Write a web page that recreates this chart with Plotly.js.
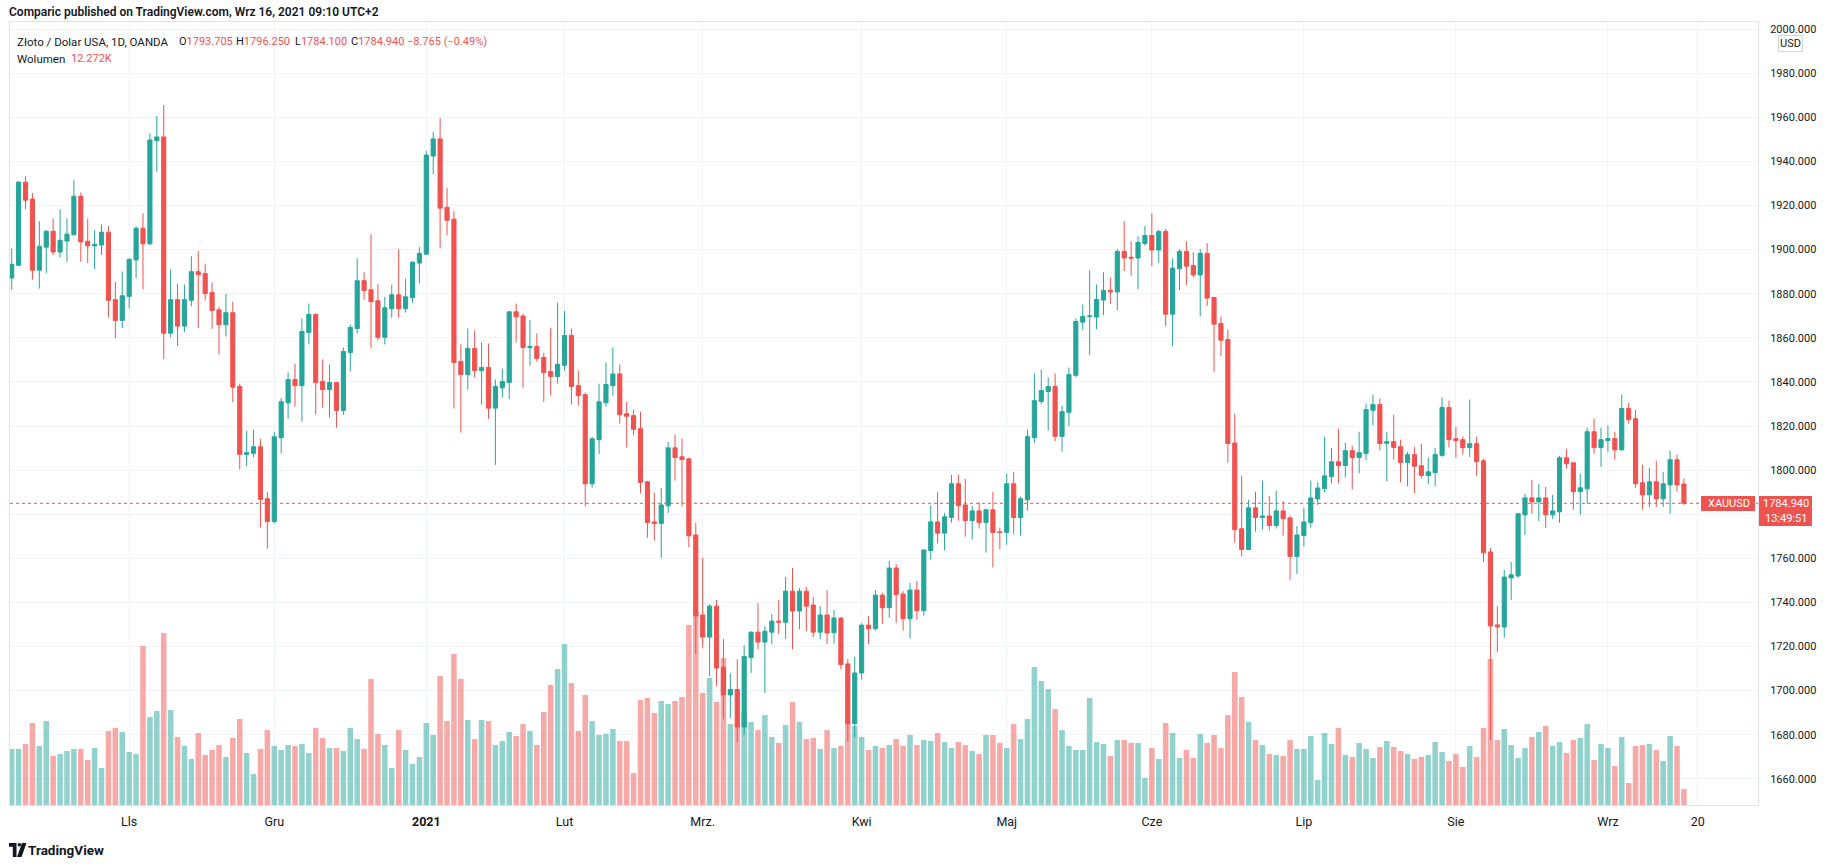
<!DOCTYPE html>
<html>
<head>
<meta charset="utf-8">
<script src="https://cdn.plot.ly/plotly-3.0.1.min.js"></script>
<style>
  html, body { margin: 0; padding: 0; background: #ffffff; }
  #chart { width: 1834px; height: 868px; }
</style>
</head>
<body>
<div id="chart"></div>
<script>
// ---------- DATA (XAUUSD, OANDA, 1D) ----------
const firstDay = '2020-10-08';
const holidays = ['2020-12-25', '2021-01-01', '2021-04-02'];
const barCount = 243;

const openP = [
1887.1,1892.9,1930.6,1922.9,1890.6,1901.1,1908.3,1898.9,1903.9,1906.7,
1924.2,1903.8,1901.7,1902.1,1907.9,1877.3,1867.9,1878.8,1895.3,1909.7,
1902.6,1949.4,1951.1,1862.1,1877.3,1865.3,1877.0,1890.0,1889.1,1880.5,
1872.7,1865.9,1871.4,1837.9,1807.1,1807.6,1810.6,1787.0,1776.7,1814.7,
1830.5,1841.1,1838.3,1862.4,1870.6,1840.2,1836.5,1839.7,1827.0,1853.3,
1864.2,1885.9,1881.8,1876.8,1860.2,1873.2,1879.5,1873.2,1878.2,1893.9,
1897.9,1942.4,1950.2,1919.2,1913.8,1849.3,1843.3,1855.2,1845.1,1846.5,
1828.1,1837.3,1839.7,1871.8,1869.9,1855.6,1856.1,1851.1,1844.7,1842.4,
1847.5,1861.1,1838.3,1834.2,1793.8,1813.8,1830.5,1838.3,1843.6,1825.6,
1824.7,1818.8,1794.7,1776.5,1775.8,1783.8,1810.1,1806.0,1805.1,1770.6,
1734.3,1724.3,1738.3,1710.6,1698.0,1700.5,1683.5,1715.0,1726.5,1722.0,
1726.5,1731.5,1731.0,1745.1,1736.1,1745.1,1738.8,1726.5,1734.3,1726.2,
1732.9,1712.1,1685.0,1708.0,1729.7,1728.1,1743.3,1737.6,1755.6,1743.8,
1732.6,1745.6,1736.2,1763.5,1776.5,1771.4,1778.5,1793.8,1784.2,1777.1,
1781.5,1776.2,1782.0,1772.0,1771.7,1793.8,1778.5,1786.5,1814.7,1831.1,
1835.6,1837.9,1815.3,1826.2,1843.0,1867.1,1869.7,1869.4,1877.1,1881.5,
1880.8,1899.2,1896.5,1896.2,1902.8,1906.4,1899.8,1908.2,1870.7,1891.3,
1899.2,1892.8,1888.5,1898.3,1878.3,1866.5,1859.2,1812.3,1773.4,1764.0,
1782.9,1778.5,1779.2,1774.9,1781.5,1778.3,1760.8,1770.3,1776.2,1786.9,
1791.6,1797.0,1803.8,1802.1,1808.8,1805.7,1807.6,1827.1,1829.7,1812.1,
1812.9,1810.6,1803.5,1807.0,1802.0,1797.6,1798.9,1806.7,1828.4,1814.3,
1813.8,1810.2,1812.0,1804.2,1762.9,1729.8,1728.9,1751.1,1752.0,1779.7,
1787.4,1785.6,1787.4,1779.7,1781.1,1805.6,1803.3,1790.2,1791.5,1817.4,
1810.2,1813.4,1814.3,1809.2,1827.9,1823.3,1794.3,1788.8,1794.7,1787.0,
1793.3,1804.7,1793.705
];

const highP = [
1900.5,1931.0,1933.3,1925.6,1912.9,1908.8,1914.1,1918.3,1914.1,1931.5,
1925.9,1914.1,1908.8,1911.5,1910.6,1885.4,1890.1,1896.1,1910.6,1916.5,
1952.7,1960.6,1965.6,1891.0,1884.5,1884.1,1897.0,1899.4,1893.6,1885.0,
1874.1,1880.0,1876.4,1839.2,1817.9,1818.3,1814.2,1790.2,1817.4,1832.8,
1844.2,1848.3,1868.8,1875.5,1871.1,1850.2,1847.9,1840.0,1855.6,1866.0,
1896.1,1889.7,1907.0,1884.5,1878.6,1884.1,1900.2,1886.8,1894.7,1901.1,
1944.7,1953.3,1959.7,1927.9,1917.4,1857.0,1864.2,1863.3,1857.9,1857.4,
1841.1,1846.0,1871.8,1875.5,1870.9,1868.2,1862.0,1853.3,1864.5,1875.9,
1872.2,1864.2,1845.1,1835.2,1815.1,1839.2,1848.8,1855.6,1847.9,1831.0,
1827.4,1826.5,1795.2,1789.7,1792.0,1812.8,1816.1,1814.3,1805.6,1776.1,
1760.2,1739.2,1741.1,1723.4,1707.8,1714.2,1720.6,1726.9,1739.7,1729.2,
1734.7,1741.1,1751.5,1755.6,1746.5,1747.0,1742.4,1738.3,1745.6,1736.5,
1733.3,1714.3,1715.4,1730.6,1733.8,1745.6,1744.3,1758.8,1757.4,1745.1,
1748.8,1749.7,1763.8,1783.9,1790.1,1780.6,1797.9,1797.9,1796.1,1783.8,
1785.5,1782.4,1790.1,1774.0,1798.4,1799.2,1787.9,1818.3,1843.8,1845.6,
1842.0,1843.8,1829.2,1846.5,1868.8,1875.1,1890.6,1884.2,1889.7,1887.4,
1900.2,1912.9,1903.8,1906.0,1910.6,1916.5,1909.1,1909.5,1896.1,1900.2,
1903.8,1898.8,1900.2,1902.9,1878.3,1869.7,1863.8,1825.6,1797.4,1786.6,
1790.2,1795.2,1788.3,1790.6,1786.0,1779.4,1774.7,1782.9,1795.2,1794.6,
1815.2,1810.1,1818.8,1812.4,1811.1,1817.4,1830.1,1834.2,1832.4,1817.4,
1825.1,1813.8,1808.3,1810.6,1812.0,1805.6,1810.1,1832.9,1831.5,1819.7,
1815.2,1832.0,1815.2,1805.1,1764.7,1738.3,1754.7,1758.3,1780.2,1789.2,
1795.6,1793.8,1792.4,1788.8,1806.5,1809.7,1803.3,1798.3,1819.2,1823.3,
1819.2,1820.2,1817.4,1834.3,1830.6,1827.4,1802.4,1801.1,1804.2,1799.1,
1808.8,1807.0,1796.25
];

const lowP = [
1881.8,1892.5,1918.3,1886.4,1882.3,1889.4,1897.4,1896.5,1894.4,1906.5,
1894.4,1893.9,1891.2,1897.6,1869.3,1859.8,1864.4,1873.3,1887.0,1882.0,
1902.1,1935.3,1850.3,1860.3,1856.2,1862.6,1874.3,1864.4,1877.0,1864.1,
1852.4,1860.6,1830.8,1800.3,1801.7,1805.7,1774.0,1764.4,1775.8,1807.6,
1823.3,1828.8,1822.0,1857.0,1825.1,1828.3,1823.8,1819.2,1825.1,1844.7,
1862.0,1877.3,1855.2,1858.8,1857.0,1869.1,1869.1,1871.4,1875.9,1884.6,
1897.7,1934.3,1900.6,1906.5,1827.9,1817.0,1836.5,1842.0,1829.7,1823.3,
1802.4,1832.9,1832.2,1857.9,1837.4,1847.3,1849.2,1831.0,1833.8,1839.2,
1845.1,1829.7,1829.3,1783.5,1792.0,1807.3,1828.7,1833.8,1821.1,1810.3,
1815.8,1789.4,1769.3,1768.0,1760.2,1780.6,1795.2,1783.5,1765.1,1716.5,
1719.2,1706.5,1702.0,1687.0,1687.5,1676.5,1680.0,1708.0,1718.8,1699.0,
1721.1,1725.6,1723.4,1718.8,1727.9,1727.0,1724.3,1723.4,1721.1,1721.3,
1709.6,1677.0,1679.0,1705.0,1721.0,1727.2,1730.3,1733.0,1730.8,1727.2,
1723.6,1732.1,1734.0,1759.4,1766.7,1763.5,1776.2,1777.1,1769.8,1768.5,
1773.5,1762.6,1755.8,1764.0,1766.2,1770.8,1770.3,1781.7,1812.4,1829.9,
1818.0,1813.0,1808.4,1819.8,1842.1,1863.5,1852.1,1863.9,1870.3,1875.3,
1872.5,1890.3,1888.1,1882.1,1901.7,1892.5,1894.0,1865.3,1856.2,1881.7,
1883.9,1887.4,1869.7,1874.4,1844.4,1851.7,1803.5,1767.1,1760.8,1764.0,
1772.1,1773.0,1772.6,1773.5,1770.3,1750.3,1753.0,1765.4,1774.0,1784.2,
1789.9,1794.0,1794.0,1796.7,1791.2,1798.5,1804.4,1820.3,1809.0,1794.9,
1804.8,1794.4,1792.6,1789.6,1796.2,1793.7,1792.6,1806.0,1810.2,1805.6,
1807.0,1806.0,1797.4,1758.3,1677.5,1717.4,1723.9,1741.1,1751.1,1770.6,
1780.2,1776.9,1773.8,1777.9,1776.1,1800.6,1782.0,1779.7,1784.7,1807.4,
1801.5,1808.3,1804.7,1808.8,1821.1,1792.0,1782.0,1783.3,1783.3,1783.3,
1780.2,1790.2,1784.1
];

const closeP = [
1893.3,1930.6,1922.4,1890.6,1901.5,1908.3,1898.9,1904.2,1907.0,1924.2,
1903.5,1901.7,1902.4,1907.9,1877.0,1867.9,1879.1,1895.6,1909.7,1902.6,
1949.7,1951.1,1862.1,1877.3,1865.3,1877.3,1890.0,1888.6,1880.0,1872.4,
1865.9,1871.4,1837.6,1807.1,1807.9,1810.6,1786.7,1776.7,1815.1,1831.0,
1841.1,1838.3,1862.9,1870.6,1839.7,1836.5,1839.7,1827.0,1853.8,1864.7,
1885.9,1881.4,1876.4,1860.2,1873.6,1879.5,1873.2,1878.6,1894.3,1898.3,
1942.9,1950.2,1918.8,1913.3,1848.8,1843.3,1855.2,1845.1,1846.5,1828.1,
1837.9,1840.2,1871.8,1869.5,1855.6,1856.1,1850.6,1844.2,1842.4,1848.0,
1861.1,1837.9,1833.8,1793.8,1814.2,1831.0,1838.8,1843.6,1825.1,1824.4,
1818.5,1794.4,1776.2,1775.8,1784.2,1810.1,1805.7,1804.8,1770.2,1733.8,
1724.3,1738.3,1710.2,1698.0,1700.5,1683.5,1715.5,1726.5,1722.0,1726.9,
1731.5,1731.0,1745.1,1736.1,1745.1,1738.3,1726.5,1734.3,1726.1,1732.9,
1711.8,1685.0,1708.0,1729.7,1728.1,1743.3,1737.6,1755.6,1743.5,1732.6,
1745.6,1736.2,1763.8,1776.5,1771.4,1778.8,1793.8,1783.9,1777.1,1781.5,
1776.2,1782.0,1771.7,1771.7,1793.8,1778.5,1787.0,1815.2,1831.5,1836.1,
1837.9,1815.3,1826.5,1843.3,1867.4,1869.7,1869.9,1877.4,1881.5,1880.8,
1899.2,1896.2,1896.1,1903.3,1906.4,1899.8,1908.2,1870.7,1891.6,1899.2,
1892.5,1888.5,1898.3,1878.0,1866.2,1858.9,1812.1,1773.0,1764.0,1782.9,
1778.5,1779.2,1774.9,1781.5,1778.0,1760.8,1770.6,1776.5,1787.4,1791.9,
1797.4,1803.8,1802.1,1808.8,1805.7,1807.9,1827.4,1829.7,1812.1,1812.9,
1810.3,1803.5,1807.0,1801.7,1797.6,1799.2,1807.0,1828.4,1813.8,1813.4,
1810.2,1812.0,1803.8,1762.5,1729.3,1728.9,1751.5,1752.5,1780.2,1787.4,
1785.6,1787.4,1779.7,1781.5,1805.6,1802.9,1790.2,1792.0,1817.4,1810.2,
1813.8,1814.3,1809.2,1827.9,1822.9,1793.8,1788.8,1794.7,1787.0,1793.8,
1804.7,1793.3,1784.94
];

// volume, thousands
const volumeK = [
43.0,43.0,46.8,62.9,45.3,64.4,37.6,39.1,41.4,43.0,
43.0,34.5,43.7,28.4,56.8,59.1,56.0,40.7,39.1,122.0,
67.5,72.1,131.9,72.9,52.2,45.3,35.3,55.2,38.4,42.2,
46.0,36.8,51.4,66.0,39.9,23.8,43.0,57.5,45.3,42.2,
46.0,45.3,46.8,39.9,59.1,51.4,43.7,43.7,41.4,59.1,
50.6,43.0,96.7,54.5,46.0,28.4,57.5,42.2,31.5,36.8,
62.9,53.7,99.0,64.4,115.8,96.7,65.2,50.6,65.2,64.4,
46.0,49.1,56.0,52.9,62.1,56.8,46.0,71.3,92.1,104.3,
123.5,93.6,56.8,84.4,64.4,53.7,54.5,58.3,49.1,49.1,
24.5,80.5,82.1,70.6,79.8,77.5,79.8,82.8,138.1,148.8,
85.9,97.4,79.0,112.8,62.1,62.1,71.3,63.7,57.5,69.0,
52.2,47.6,61.4,79.0,63.7,50.6,51.4,43.0,57.5,43.7,
45.3,64.4,60.6,52.2,42.2,45.3,43.7,46.0,50.6,45.3,
53.7,46.0,49.9,49.1,55.2,48.3,43.7,48.3,46.0,41.4,
39.1,53.7,53.7,47.6,43.7,62.1,50.6,66.0,105.9,95.1,
89.0,73.6,57.5,45.3,42.2,42.2,82.1,48.3,46.8,37.6,
49.9,49.9,47.6,47.6,20.7,43.7,35.3,62.9,55.2,36.1,
42.2,36.1,54.5,47.6,53.7,43.7,69.0,102.0,82.8,63.7,
49.9,46.0,39.1,38.4,37.6,49.9,43.0,43.0,52.9,19.2,
55.2,46.8,59.1,38.4,36.8,47.6,43.0,36.1,44.5,49.1,
44.5,41.4,39.1,35.3,36.8,38.4,48.3,40.7,33.8,39.1,
29.2,45.3,36.8,59.1,112.0,49.9,58.3,46.0,36.1,43.7,
52.2,56.0,60.6,45.3,48.3,39.9,49.9,51.4,62.1,34.5,
46.8,43.7,29.9,52.2,16.9,45.3,46.0,46.8,42.2,33.8,
52.9,45.3,12.272
];

const tickDates = ['2020-11-02','2020-12-01','2021-01-04','2021-02-01','2021-03-01','2021-04-01',
                   '2021-05-03','2021-06-01','2021-07-01','2021-08-02','2021-09-01','2021-09-20'];
const tickLabels = ['Lls','Gru','<b>2021</b>','Lut','Mrz.','Kwi','Maj','Cze','Lip','Sie','Wrz','20'];
const priceTicks = [1660,1680,1700,1720,1740,1760,1780,1800,1820,1840,1860,1880,1900,1920,1940,1960,1980,2000];
const hiddenPriceTick = 1780;   // covered by the last-price label in the original
const lastClose = 1784.94;

// ---------- trading calendar (weekdays, minus listed closures) ----------
function tradingDays(start, n, skip) {
  const out = [];
  const d = new Date(start + 'T00:00:00Z');
  while (out.length < n) {
    const dow = d.getUTCDay();
    const s = d.toISOString().slice(0, 10);
    if (dow !== 0 && dow !== 6 && skip.indexOf(s) < 0) out.push(s + ' 12:00');
    d.setUTCDate(d.getUTCDate() + 1);
  }
  return out;
}
const dates = tradingDays(firstDay, barCount, holidays);

const UP = '#26a69a', DOWN = '#ef5350';
const volColors = closeP.map((c, i) => c >= openP[i] ? 'rgba(38,166,154,0.5)' : 'rgba(239,83,80,0.5)');

// pixel -> paper helpers (plot area: x 10..1758, y 22..805)
const PL = 10, PR = 1758, PT = 22, PB = 805;
const px = v => (v - PL) / (PR - PL);
const py = v => (PB - v) / (PB - PT);

const traces = [
  {
    type: 'bar', x: dates, y: volumeK, xaxis: 'x', yaxis: 'y',
    marker: { color: volColors, line: { width: 0 } },
    hoverinfo: 'skip'
  },
  {
    type: 'candlestick', x: dates, open: openP, high: highP, low: lowP, close: closeP,
    xaxis: 'x', yaxis: 'y2',
    increasing: { line: { color: UP, width: 1 }, fillcolor: UP },
    decreasing: { line: { color: DOWN, width: 1 }, fillcolor: DOWN },
    whiskerwidth: 0, hoverinfo: 'skip'
  }
];

const FONT = 'Roboto, "Open Sans", "DejaVu Sans", sans-serif';
const DARK = '#131722';

function t(x, y, text, size, opts) {
  return Object.assign({
    xref: 'paper', yref: 'paper', x: px(x), y: py(y), text: text,
    showarrow: false, xanchor: 'left', yanchor: 'middle', borderpad: 0,
    font: { family: FONT, size: size || 11, color: DARK }
  }, opts || {});
}
const red = s => '<span style="color:#ef5350">' + s + '</span>';

const annotations = [
  t(8, 12, 'Comparic published on TradingView.com, Wrz 16, 2021 09:10 UTC+2', 12, { font: { family: FONT, size: 12, color: DARK, weight: 600 } }),
  t(16, 42, 'Złoto / Dolar USA, 1D, OANDA', 11.5),
  t(178, 42, 'O' + red('1793.705'), 11),
  t(235, 42, 'H' + red('1796.250'), 11),
  t(294, 42, 'L' + red('1784.100'), 11),
  t(350, 42, 'C' + red('1784.940'), 11),
  t(406, 42, red('−8.765 (−0.49%)'), 11),
  t(16, 58.5, 'Wolumen', 11.5),
  t(70, 58.5, red('12.272K'), 11),
  // USD unit box
  t(1790.5, 43.5, 'USD', 11, { xanchor: 'center', bgcolor: '#ffffff', bordercolor: '#d1d4dc', borderwidth: 1, borderpad: 1 }),
  // last price labels (texts on red boxes drawn as shapes)
  t(1728.5, 503.5, 'XAUUSD', 11, { xanchor: 'center', font: { family: FONT, size: 11, color: '#ffffff' } }),
  t(1785.5, 503.5, '1784.940', 11, { xanchor: 'center', font: { family: FONT, size: 11, color: '#ffffff' } }),
  t(1785.5, 518, '13:49:51', 11, { xanchor: 'center', font: { family: FONT, size: 11, color: '#ffffff' } }),
  // footer brand
  t(27, 850, 'TradingView', 13.5, { font: { family: FONT, size: 13.5, color: DARK, weight: 700 } })
];

function pathOf(pts) {
  return 'M' + pts.map(p => px(p[0]) + ',' + py(p[1])).join(' L') + ' Z';
}
function rectPx(x0, y0, x1, y1, color) {
  return { type: 'rect', xref: 'paper', yref: 'paper', x0: px(x0), x1: px(x1), y0: py(y0), y1: py(y1),
           fillcolor: color, line: { width: 0 }, layer: 'above' };
}

const shapes = [
  { type: 'line', xref: 'paper', yref: 'y2', x0: 0, x1: 1, y0: lastClose, y1: lastClose,
    line: { color: DOWN, width: 1, dash: 'dot' } },
  rectPx(1701, 496, 1755, 511, DOWN),
  rectPx(1759, 496, 1812, 526, DOWN),
  // logo
  { type: 'path', xref: 'paper', yref: 'paper', path: pathOf([[9,843],[16.5,843],[16.5,857],[12.8,857],[12.8,846.8],[9,846.8]]),
    fillcolor: DARK, line: { width: 0 } },
  { type: 'circle', xref: 'paper', yref: 'paper', x0: px(17.6), x1: px(21.2), y0: py(843), y1: py(846.6),
    fillcolor: DARK, line: { width: 0 } },
  { type: 'path', xref: 'paper', yref: 'paper', path: pathOf([[22,843],[26.5,843],[21.5,857],[17,857]]),
    fillcolor: DARK, line: { width: 0 } }
];

const layout = {
  width: 1834, height: 868,
  margin: { l: PL, r: 1834 - PR, t: PT, b: 868 - PB, pad: 0 },
  paper_bgcolor: '#ffffff', plot_bgcolor: '#ffffff',
  showlegend: false, hovermode: false, dragmode: false,
  boxgap: 0.25, boxgroupgap: 0.2, bargap: 0.2,
  font: { family: FONT, color: DARK, size: 12 },
  xaxis: {
    type: 'date',
    range: ['2020-10-08 06:06', '2021-10-01 05:17'],
    rangebreaks: [{ bounds: ['sat', 'mon'] }, { values: holidays }],
    rangeslider: { visible: false },
    tickmode: 'array', tickvals: tickDates.map(d => d + ' 12:00'), ticktext: tickLabels,
    showgrid: true, gridcolor: '#f0f3fa', gridwidth: 1,
    showline: true, linecolor: '#e0e3eb', linewidth: 1, mirror: true,
    ticks: 'outside', ticklen: 5, tickcolor: 'rgba(0,0,0,0)',
    tickfont: { family: FONT, size: 12.5, color: DARK },
    zeroline: false, fixedrange: true
  },
  yaxis: { range: [0, 600.6], visible: false, fixedrange: true, showgrid: false, zeroline: false },
  yaxis2: {
    overlaying: 'y', side: 'right', anchor: 'x',
    range: [1648.12, 2003.22],
    tickmode: 'array', tickvals: priceTicks,
    ticktext: priceTicks.map(v => v === hiddenPriceTick ? '' : v.toFixed(3)),
    showgrid: true, gridcolor: '#f0f3fa', gridwidth: 1,
    showline: true, linecolor: '#e0e3eb', linewidth: 1, mirror: true,
    ticks: 'outside', ticklen: 9, tickcolor: 'rgba(0,0,0,0)',
    tickfont: { family: FONT, size: 11, color: DARK },
    zeroline: false, fixedrange: true
  },
  annotations: annotations,
  shapes: shapes
};

Plotly.newPlot('chart', traces, layout, { staticPlot: true, displayModeBar: false });
</script>
</body>
</html>
